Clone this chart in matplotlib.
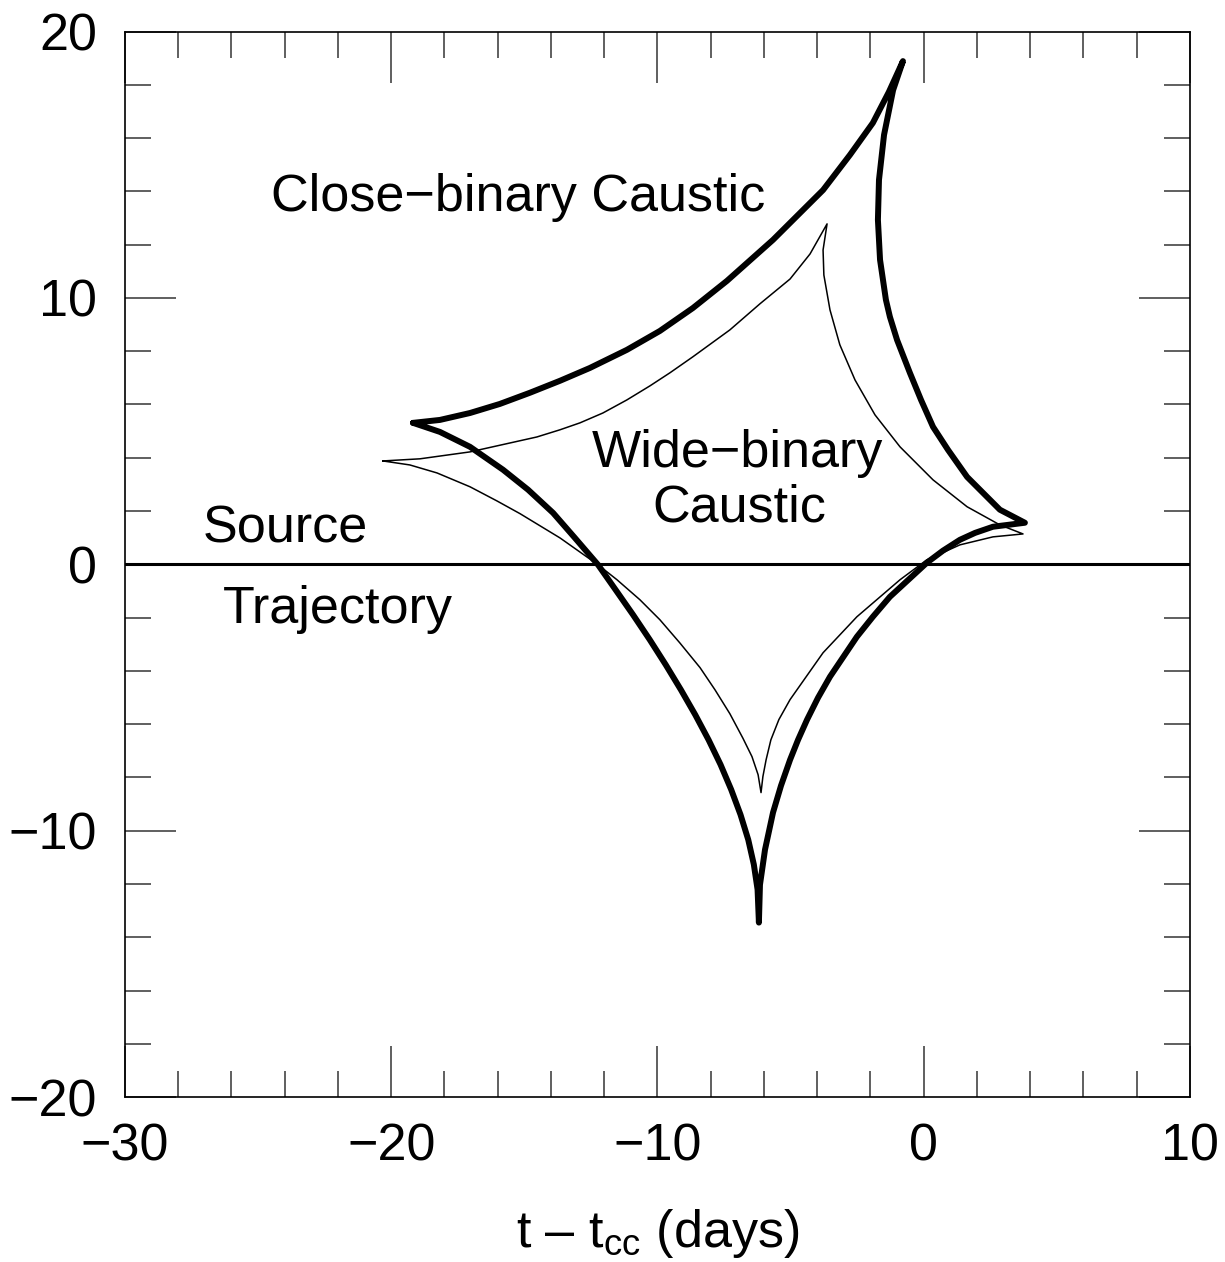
import matplotlib
matplotlib.use("Agg")
import matplotlib.pyplot as plt
from matplotlib.ticker import MultipleLocator

plt.rcParams['font.family'] = ['Liberation Sans', 'DejaVu Sans']
plt.rcParams['mathtext.fontset'] = 'custom'
plt.rcParams['mathtext.rm'] = 'Liberation Sans'
plt.rcParams['mathtext.it'] = 'Liberation Sans'

# close-binary caustic (thick), loop: left cusp -> top -> right -> bottom -> left
close_x = [-19.18, -18.17, -17.04, -15.92, -14.79, -13.66, -12.54, -11.15, -9.91, -8.67, -7.39, -5.66,
           -3.78, -2.77, -1.91, -1.31, -0.78,
           -1.15, -1.49, -1.68, -1.72, -1.64, -1.42, -1.27, -1.00, -0.52, -0.10, 0.35, 0.91, 1.63,
           2.30, 2.86, 3.80,
           2.60, 1.93, 1.36, 0.72, 0.12, -1.27, -1.91, -2.51, -3.52, -3.97, -4.38, -4.72, -5.02,
           -5.36, -5.66, -5.96, -6.15, -6.19,
           -6.24, -6.38, -6.59, -6.88, -7.23, -7.63, -8.08, -8.58, -9.12, -9.69, -10.29, -10.92,
           -11.57, -12.23, -13.10, -13.92, -14.86, -15.80, -17.04, -18.17, -19.18]
close_y = [5.31, 5.42, 5.68, 6.02, 6.44, 6.89, 7.37, 8.05, 8.76, 9.62, 10.64, 12.18,
           14.05, 15.37, 16.57, 17.73, 18.89,
           17.80, 16.12, 14.43, 12.93, 11.43, 9.93, 9.29, 8.42, 7.19, 6.17, 5.16, 4.30, 3.28,
           2.61, 2.05, 1.56,
           1.41, 1.18, 0.92, 0.51, 0.06, -1.22, -1.97, -2.72, -4.22, -5.01, -5.83, -6.59, -7.34,
           -8.31, -9.32, -10.71, -12.03, -13.45,
           -12.21, -11.27, -10.34, -9.40, -8.46, -7.52, -6.59, -5.65, -4.71, -3.77, -2.83, -1.89,
           -0.96, -0.02, 0.99, 1.93, 2.80, 3.55, 4.41, 4.97, 5.31]

# wide-binary caustic (thin)
wide_x = [-20.31, -18.92, -17.04, -14.53, -13.66, -12.91, -12.05, -11.15, -10.28, -9.53, -8.67, -7.28,
          -6.15, -5.02, -4.27, -3.63,
          -3.78, -3.75, -3.52, -3.15, -2.58, -1.83, -0.89, 0.35, 1.63, 2.86, 3.73,
          2.60, 1.36, 0.12, -0.89, -2.51, -3.78, -5.02, -5.44, -5.74, -5.92, -6.04, -6.11,
          -6.22, -6.45, -6.79, -7.28, -7.84, -8.40, -9.16, -9.91, -10.66, -11.52, -12.23,
          -13.66, -15.16, -16.03, -17.04, -18.28, -19.30, -20.31]
wide_y = [3.88, 3.96, 4.22, 4.78, 5.05, 5.31, 5.68, 6.17, 6.70, 7.19, 7.79, 8.80,
          9.78, 10.71, 11.65, 12.78,
          11.80, 10.86, 9.55, 8.24, 6.92, 5.61, 4.41, 3.17, 2.16, 1.48, 1.14,
          1.03, 0.73, 0.17, -0.58, -1.97, -3.32, -5.08, -5.83, -6.59, -7.34, -7.97, -8.57,
          -7.90, -7.22, -6.53, -5.61, -4.71, -3.88, -2.95, -2.08, -1.33, -0.58, -0.02,
          0.99, 1.90, 2.38, 2.91, 3.43, 3.73, 3.88]

x_range = [-30, 10]
y_range = [-20, 20]
traj_y = 0

fig = plt.figure(figsize=(12.25, 12.62), dpi=100)
ax = fig.add_axes([0.102, 0.1307, 0.8694, 0.8443])

ax.plot(x_range, [traj_y, traj_y], color='black', lw=2.2)
ax.plot(close_x, close_y, color='black', lw=4.3, solid_joinstyle='round', solid_capstyle='round')
ax.plot(wide_x, wide_y, color='black', lw=1.1, solid_joinstyle='round')

ax.set_xlim(x_range)
ax.set_ylim(y_range)
ax.xaxis.set_major_locator(MultipleLocator(10))
ax.xaxis.set_minor_locator(MultipleLocator(2))
ax.yaxis.set_major_locator(MultipleLocator(10))
ax.yaxis.set_minor_locator(MultipleLocator(2))
ax.tick_params(which='both', direction='in', top=True, right=True, width=1.2, color='#444444')
ax.tick_params(which='major', length=37, labelsize=37.5, pad=18)
ax.tick_params(which='minor', length=18.5)
ax.tick_params(axis='y', which='major', pad=20)
for s in ax.spines.values():
    s.set_linewidth(1.2)

ax.set_xlabel(r"t – t$_{\rm cc}$ (days)", fontsize=37.5, labelpad=26)

ax.text(-15.24, 13.26, "Close−binary Caustic", fontsize=37.5, ha='center', va='baseline')
ax.text(-7.01, 3.66, "Wide−binary", fontsize=37.5, ha='center', va='baseline')
ax.text(-6.94, 1.59, "Caustic", fontsize=37.5, ha='center', va='baseline')
ax.text(-23.99, 0.81, "Source", fontsize=37.5, ha='center', va='baseline')
ax.text(-22.02, -2.20, "Trajectory", fontsize=37.5, ha='center', va='baseline')

fig.savefig("out.png", dpi=100)
